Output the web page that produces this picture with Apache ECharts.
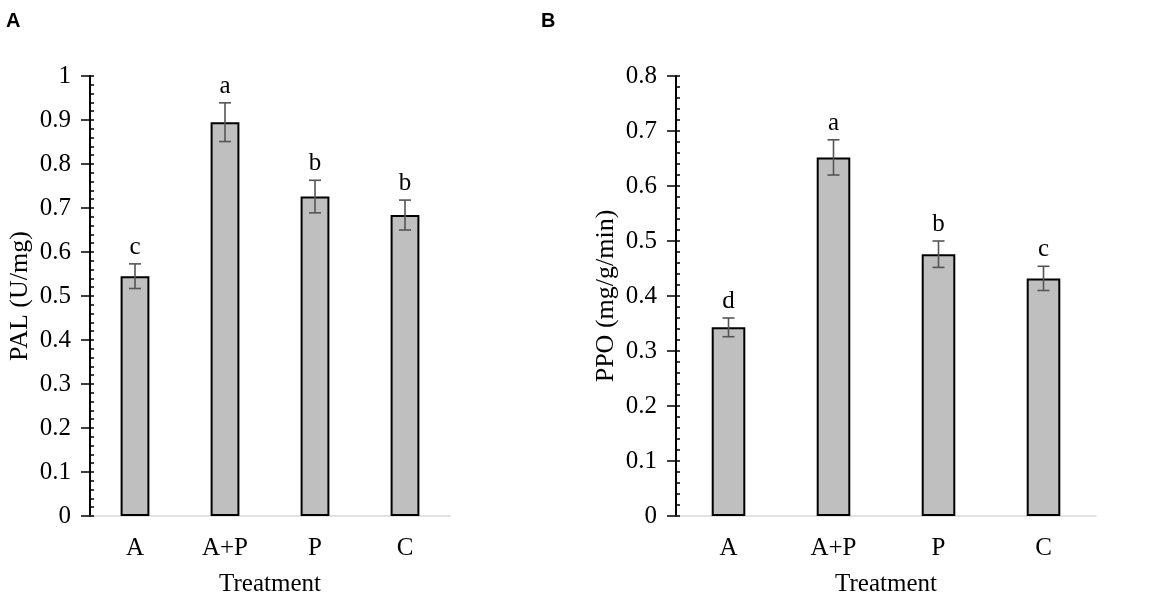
<!DOCTYPE html>
<html>
<head>
<meta charset="utf-8">
<script src="https://cdn.jsdelivr.net/npm/echarts@6/dist/echarts.min.js"></script>
<style>html,body{margin:0;padding:0;background:#fff}#c{width:1170px;height:601px}</style>
</head>
<body>
<div id="c"></div>
<script>
var categories = ['A', 'A+P', 'P', 'C'];
var palValues = [0.545, 0.895, 0.726, 0.684];
var palErrors = [0.028, 0.044, 0.037, 0.034];
var palLetters = ['c', 'a', 'b', 'b'];
var ppoValues = [0.343, 0.652, 0.476, 0.432];
var ppoErrors = [0.017, 0.032, 0.024, 0.022];
var ppoLetters = ['d', 'a', 'b', 'c'];
var palTicks = {min: 0, max: 1, interval: 0.1};
var ppoTicks = {min: 0, max: 0.8, interval: 0.1};

var serif = 'Liberation Serif';
var chart = echarts.init(document.getElementById('c'));

function yAxesFor(grid, ticks, name) {
  return [{
    type: 'value', gridIndex: grid, position: 'left', min: ticks.min, max: ticks.max, interval: ticks.interval,
    name: name, nameLocation: 'middle', nameGap: 57, nameRotate: 90, nameMoveOverlap: false,
    nameTextStyle: {fontFamily: serif, fontSize: 26, color: '#000'},
    axisLine: {show: true, lineStyle: {color: '#000', width: 2}},
    axisTick: {show: true, inside: false, length: 9, lineStyle: {color: '#000', width: 1.5}},
    axisLabel: {fontFamily: serif, fontSize: 25, color: '#000', margin: 19},
    splitLine: {show: false}
  }, {
    type: 'value', gridIndex: grid, position: 'left', offset: 0, min: ticks.min, max: ticks.max, interval: ticks.interval,
    axisLine: {show: false},
    axisTick: {show: true, inside: true, length: 4, lineStyle: {color: '#000', width: 1.5}},
    minorTick: {show: true, splitNumber: 5, length: 4, lineStyle: {color: '#000', width: 1.5}},
    axisLabel: {show: false},
    splitLine: {show: false}
  }];
}

function xAxisFor(grid) {
  return {
    type: 'category', gridIndex: grid, data: categories,
    name: 'Treatment', nameLocation: 'middle', nameGap: 56, nameMoveOverlap: false,
    nameTextStyle: {fontFamily: serif, fontSize: 25, color: '#000'},
    axisLine: {show: true, lineStyle: {color: '#d9d9d9', width: 1.5}},
    axisTick: {show: false},
    axisLabel: {fontFamily: serif, fontSize: 25, color: '#000', margin: 20},
    splitLine: {show: false}
  };
}

function errSeries(xi, yi, values, errors, letters) {
  var data = values.map(function (v, i) { return [i, v, errors[i]]; });
  return {
    type: 'custom', xAxisIndex: xi, yAxisIndex: yi, z: 5,
    data: data,
    renderItem: function (params, api) {
      var x = api.value(0), v = api.value(1), e = api.value(2);
      var top = api.coord([x, v + e]);
      var bot = api.coord([x, v - e]);
      var cap = 6;
      var style = {stroke: '#555', lineWidth: 1.6};
      return {
        type: 'group',
        children: [
          {type: 'line', shape: {x1: top[0], y1: top[1], x2: bot[0], y2: bot[1]}, style: style},
          {type: 'line', shape: {x1: top[0] - cap, y1: top[1], x2: top[0] + cap, y2: top[1]}, style: style},
          {type: 'line', shape: {x1: bot[0] - cap, y1: bot[1], x2: bot[0] + cap, y2: bot[1]}, style: style},
          {type: 'text', style: {text: letters[params.dataIndex], x: top[0], y: top[1] - 4,
            textAlign: 'center', textVerticalAlign: 'bottom',
            fontFamily: serif, fontSize: 25, fill: '#000'}}
        ]
      };
    }
  };
}

function barSeries(xi, yi, values) {
  return {
    type: 'bar', xAxisIndex: xi, yAxisIndex: yi, data: values, barWidth: '32%',
    itemStyle: {color: '#bfbfbf', borderColor: '#000', borderWidth: 2},
    silent: true
  };
}

chart.setOption({
  animation: false,
  title: [
    {text: 'A', left: 6, top: 11, padding: 0, textStyle: {fontFamily: 'Liberation Sans', fontWeight: 'bold', fontSize: 20, color: '#000'}},
    {text: 'B', left: 541, top: 11, padding: 0, textStyle: {fontFamily: 'Liberation Sans', fontWeight: 'bold', fontSize: 20, color: '#000'}}
  ],
  grid: [
    {left: 90, top: 76, width: 360, height: 440, containLabel: false, outerBoundsMode: 'none'},
    {left: 676, top: 76, width: 420, height: 440, containLabel: false, outerBoundsMode: 'none'}
  ],
  xAxis: [xAxisFor(0), xAxisFor(1)],
  yAxis: yAxesFor(0, palTicks, 'PAL (U/mg)').concat(yAxesFor(1, ppoTicks, 'PPO (mg/g/min)')),
  series: [
    barSeries(0, 0, palValues),
    errSeries(0, 0, palValues, palErrors, palLetters),
    barSeries(1, 2, ppoValues),
    errSeries(1, 2, ppoValues, ppoErrors, ppoLetters)
  ]
});
</script>
</body>
</html>
